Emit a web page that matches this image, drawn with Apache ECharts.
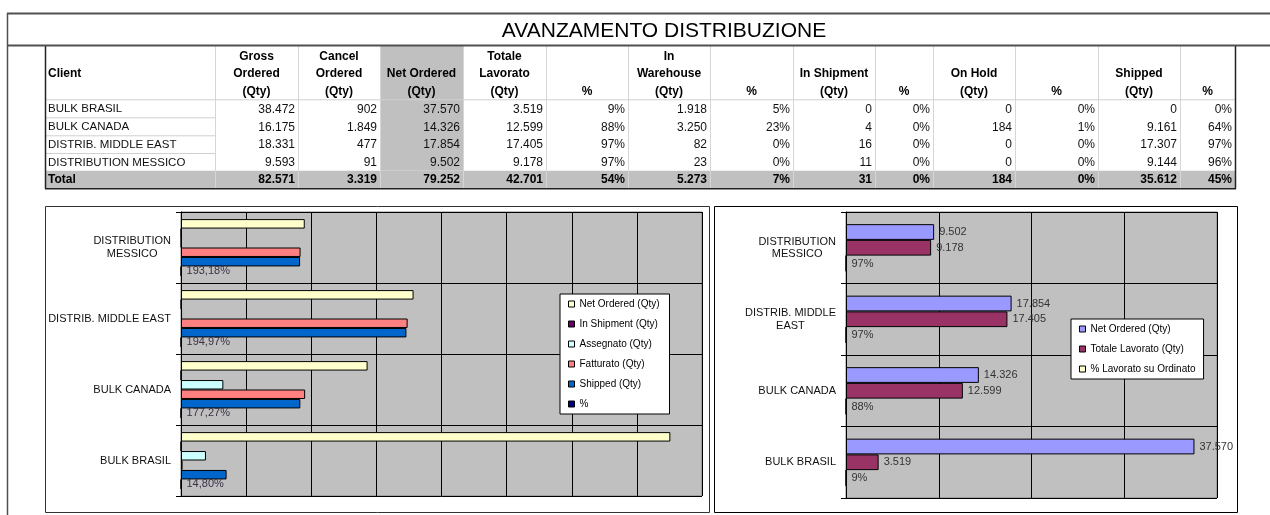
<!DOCTYPE html>
<html><head><meta charset="utf-8">
<script src="https://cdn.jsdelivr.net/npm/echarts@6/dist/echarts.min.js"></script>
<style>html,body{margin:0;padding:0;background:#fff}#c{width:1270px;height:515px}</style>
</head><body><div id="c"></div>
<script>
// ---------------- DATA ----------------
const title = 'AVANZAMENTO DISTRIBUZIONE';
const clients = ['BULK BRASIL', 'BULK CANADA', 'DISTRIB. MIDDLE EAST', 'DISTRIBUTION MESSICO'];
const tableHeaders = [
  ['Client'], ['Gross', 'Ordered', '(Qty)'], ['Cancel', 'Ordered', '(Qty)'], ['Net Ordered', '(Qty)'],
  ['Totale', 'Lavorato', '(Qty)'], ['%'], ['In', 'Warehouse', '(Qty)'], ['%'], ['In Shipment', '(Qty)'], ['%'],
  ['On Hold', '(Qty)'], ['%'], ['Shipped', '(Qty)'], ['%']
];
const grossOrdered = [38472, 16175, 18331, 9593];
const cancelOrdered = [902, 1849, 477, 91];
const netOrdered = [37570, 14326, 17854, 9502];
const totaleLavorato = [3519, 12599, 17405, 9178];
const totaleLavoratoPct = [9, 88, 97, 97];
const inWarehouse = [1918, 3250, 82, 23];
const inWarehousePct = [5, 23, 0, 0];
const inShipment = [0, 4, 16, 11];
const inShipmentPct = [0, 0, 0, 0];
const onHold = [0, 184, 0, 0];
const onHoldPct = [0, 1, 0, 0];
const shipped = [0, 9161, 17307, 9144];
const shippedPct = [0, 64, 97, 96];
const totalLabel = 'Total';
const totalsRow = [82571, 3319, 79252, 42701, 54, 5273, 7, 31, 0, 184, 0, 35612, 45];

// left chart (bottom to top categories)
const leftCategories = ['BULK BRASIL', 'BULK CANADA', 'DISTRIB. MIDDLE EAST', 'DISTRIBUTION\nMESSICO'];
const leftSeriesNames = ['Net Ordered (Qty)', 'In Shipment (Qty)', 'Assegnato (Qty)', 'Fatturato (Qty)', 'Shipped (Qty)', '%'];
const leftNetOrdered = [37570, 14326, 17854, 9502];
const leftInShipment = [0, 4, 16, 11];
const leftAssegnato = [1918, 3250, 82, 23];
const leftFatturato = [120, 9530, 17400, 9180];
const leftShipped = [3500, 9161, 17307, 9144];
const leftPct = [14.80, 177.27, 194.97, 193.18];

// right chart
const rightCategories = ['BULK BRASIL', 'BULK CANADA', 'DISTRIB. MIDDLE\nEAST', 'DISTRIBUTION\nMESSICO'];
const rightSeriesNames = ['Net Ordered (Qty)', 'Totale Lavorato (Qty)', '% Lavorato su Ordinato'];
const rightNetOrdered = [37570, 14326, 17854, 9502];
const rightLavorato = [3519, 12599, 17405, 9178];
const rightPct = [9, 88, 97, 97];

// ---------------- LAYOUT / STYLE ----------------
const FONT = "'Liberation Sans', Arial, sans-serif";
const colEdges = [45, 215, 298, 380, 463, 546, 628, 710, 793, 875, 933, 1015, 1098, 1180, 1235];
const headerTop = 45.7, headerBottom = 99.3;
const rowEdges = [99.3, 117.3, 135.3, 153, 170.7, 188.3];
const pctCols = [5, 7, 9, 11, 13];

function fmt(n) {
  const s = String(Math.round(n));
  return s.replace(/\B(?=(\d{3})+(?!\d))/g, '.');
}
function cell(colIdx, v) { return pctCols.indexOf(colIdx) >= 0 ? v + '%' : fmt(v); }

const els = [];
function line(x1, y1, x2, y2, stroke, w) {
  els.push({ type: 'line', silent: true, z: 10, shape: { x1, y1, x2, y2 }, style: { stroke, lineWidth: w } });
}
function rect(x, y, w, h, fill, stroke, lw) {
  els.push({ type: 'rect', silent: true, z: 5, shape: { x, y, width: w, height: h }, style: { fill: fill || 'none', stroke: stroke || null, lineWidth: lw || 0 } });
}
function text(str, x, y, align, bold, size, color) {
  els.push({ type: 'text', silent: true, z: 20, style: { text: str, x, y, align, verticalAlign: 'middle', font: (bold ? 'bold ' : '') + size + 'px ' + FONT, fill: color || '#000' } });
}

// backgrounds
rect(colEdges[3], headerTop, colEdges[4] - colEdges[3], rowEdges[4] - headerTop, '#C0C0C0');
rect(colEdges[0], rowEdges[4], colEdges[14] - colEdges[0], rowEdges[5] - rowEdges[4], '#C0C0C0');
// grid lines
for (let k = 1; k < colEdges.length - 1; k++) line(colEdges[k] + 0.5, headerTop, colEdges[k] + 0.5, rowEdges[5], '#D6D6D6', 1);
line(colEdges[0], headerBottom + 0.5, colEdges[14], headerBottom + 0.5, '#D0D0D0', 1);
for (let r = 1; r < 4; r++) line(colEdges[0], rowEdges[r] + 0.5, colEdges[1], rowEdges[r] + 0.5, '#D0D0D0', 1);
// table borders
line(colEdges[0] + 0.5, headerTop, colEdges[0] + 0.5, rowEdges[5] + 0.5, '#222', 1.5);
line(colEdges[0], rowEdges[5] + 0.5, colEdges[14] + 1, rowEdges[5] + 0.5, '#222', 1.5);
line(colEdges[14] + 0.5, headerTop, colEdges[14] + 0.5, rowEdges[5] + 0.5, '#222', 1.5);
// outer frame
line(7, 13.5, 1270, 13.5, '#505050', 2);
line(7, 45.5, 1270, 45.5, '#505050', 2);
line(7.5, 13, 7.5, 515, '#505050', 1.5);
// chart boxes
rect(45.5, 206.5, 664, 306, null, '#333', 1);
rect(714.5, 206.5, 523, 306, null, '#000', 1);

// title
text(title, 664, 31.5, 'center', false, 21);
// headers
tableHeaders.forEach((lines, c) => {
  if (c === 0) { text(lines[0], colEdges[0] + 3, 73.5, 'left', true, 12); return; }
  const cx = (colEdges[c] + colEdges[c + 1]) / 2;
  lines.forEach((ln, j) => text(ln, cx, 91.5 - (lines.length - 1 - j) * 17.5, 'center', true, 12));
});
// data rows
const cols = [grossOrdered, cancelOrdered, netOrdered, totaleLavorato, totaleLavoratoPct, inWarehouse, inWarehousePct,
  inShipment, inShipmentPct, onHold, onHoldPct, shipped, shippedPct];
clients.forEach((name, i) => {
  const y = (rowEdges[i] + rowEdges[i + 1]) / 2 + 1;
  text(name, colEdges[0] + 3, y, 'left', false, 11.5, '#111');
  cols.forEach((arr, c) => text(cell(c + 1, arr[i]), colEdges[c + 2] - 3, y, 'right', false, 12, '#111'));
});
{
  const y = (rowEdges[4] + rowEdges[5]) / 2 + 0.5;
  text(totalLabel, colEdges[0] + 3, y, 'left', true, 12);
  totalsRow.forEach((v, c) => text(cell(c + 1, v), colEdges[c + 2] - 3, y, 'right', true, 12));
}

// ---------------- CHART ----------------
const catRich = { c: { align: 'center', fontSize: 11, fontFamily: FONT, color: '#111', lineHeight: 12.5 } };
function catFormatter(v) { return v.split('\n').map(s => '{c|' + s + '}').join('\n'); }
function yAxisDef(gi, data) {
  return {
    gridIndex: gi, type: 'category', data,
    axisLine: { show: true, lineStyle: { color: '#000', width: 1 } },
    axisTick: { show: true, length: 5, lineStyle: { color: '#000' } },
    splitLine: { show: true, lineStyle: { color: '#000', width: 1 } },
    axisLabel: { margin: 10, formatter: catFormatter, rich: catRich, fontSize: 11, fontFamily: FONT, color: '#111' }
  };
}
function xAxisDef(gi, interval) {
  return {
    gridIndex: gi, type: 'value', min: 0, max: 40000, interval,
    axisLabel: { show: false }, axisLine: { show: false }, axisTick: { show: false },
    splitLine: { show: true, lineStyle: { color: '#000', width: 1 } }
  };
}
const barBorder = { borderColor: '#000', borderWidth: 1 };
const lblStyle = { fontSize: 11, fontFamily: FONT, color: '#333' };
const leftColors = ['#FFFFCC', '#660066', '#CCFFFF', '#FF8080', '#0066CC', '#000080'];
const leftData = [leftNetOrdered, leftInShipment, leftAssegnato, leftFatturato, leftShipped, leftPct.map(v => v / 100)];
const rightColors = ['#9999FF', '#993366', '#FFFFCC'];
const rightData = [rightNetOrdered, rightLavorato, rightPct.map(v => v / 100)];

const series = [];
leftSeriesNames.forEach((n, k) => {
  const s = {
    name: n, type: 'bar', xAxisIndex: 0, yAxisIndex: 0, data: leftData[k],
    barCategoryGap: '20%', barGap: 0,
    itemStyle: Object.assign({ color: leftColors[k] }, barBorder)
  };
  if (k === 5) s.label = Object.assign({ show: true, position: 'right', distance: 5, formatter: p => leftPct[p.dataIndex].toFixed(2).replace('.', ',') + '%' }, lblStyle, { color: '#3a2f45' });
  series.push(s);
});
rightSeriesNames.forEach((n, k) => {
  const s = {
    name: n, type: 'bar', xAxisIndex: 1, yAxisIndex: 1, data: rightData[k],
    barCategoryGap: '34%', barGap: 0,
    itemStyle: Object.assign({ color: rightColors[k] }, barBorder),
    label: Object.assign({ show: true, position: 'right', distance: 5,
      formatter: k === 2 ? (p => rightPct[p.dataIndex] + '%') : (p => fmt(p.value)) }, lblStyle)
  };
  series.push(s);
});

function legendDef(names, colors, left, top, pad) {
  return {
    orient: 'vertical', left, top, padding: pad, itemGap: 8, itemWidth: 6, itemHeight: 6, icon: 'rect',
    backgroundColor: '#fff', borderColor: '#000', borderWidth: 1, selectedMode: false,
    textStyle: { fontSize: 10, fontFamily: FONT, color: '#000', lineHeight: 12 },
    data: names.map((n, k) => ({ name: n, itemStyle: { color: colors[k], borderColor: '#000', borderWidth: 1 } }))
  };
}

const chart = echarts.init(document.getElementById('c'), null, { renderer: 'canvas' });
chart.setOption({
  animation: false,
  backgroundColor: '#fff',
  grid: [
    { left: 181, top: 212, width: 521, height: 284, show: true, backgroundColor: '#C0C0C0', borderColor: '#808080', borderWidth: 1 },
    { left: 846, top: 212, width: 371, height: 286, show: true, backgroundColor: '#C0C0C0', borderColor: '#808080', borderWidth: 1 }
  ],
  xAxis: [xAxisDef(0, 5000), xAxisDef(1, 10000)],
  yAxis: [yAxisDef(0, leftCategories), yAxisDef(1, rightCategories)],
  legend: [
    legendDef(leftSeriesNames, leftColors, 560, 294, [4, 10, 4, 8]),
    legendDef(rightSeriesNames, rightColors, 1071, 319, [4, 8, 4, 8])
  ],
  series,
  graphic: { elements: els }
});
</script>
</body></html>
